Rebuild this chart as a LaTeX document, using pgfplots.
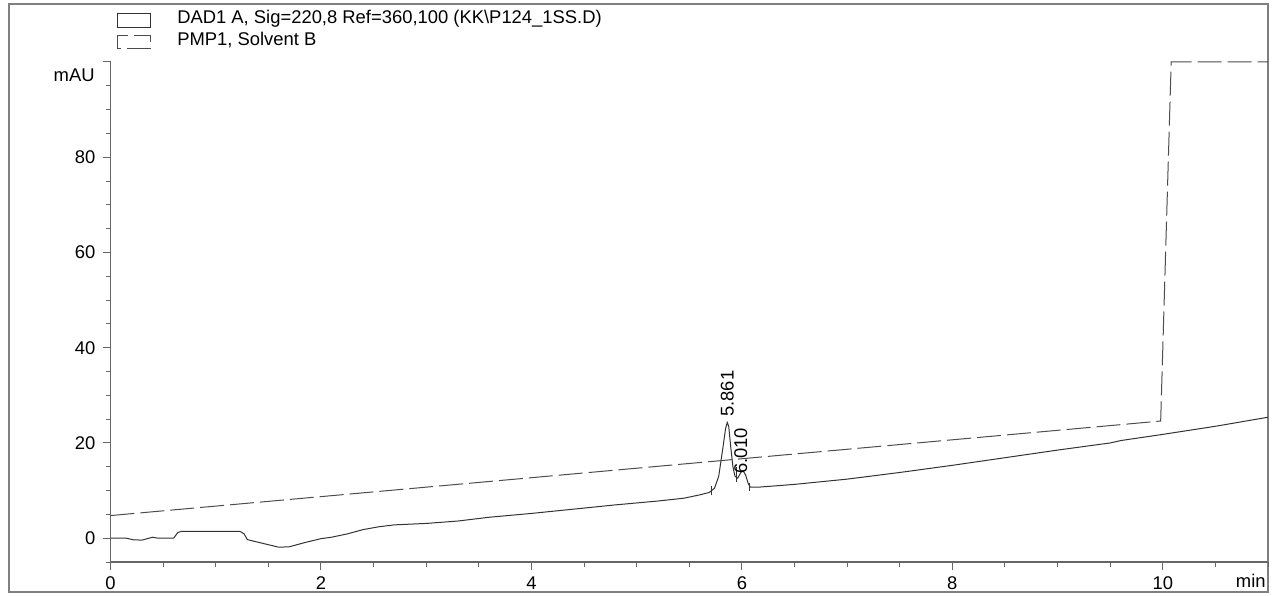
\documentclass[border=0pt]{standalone}
\usepackage{fontspec}
\setmainfont{Liberation Sans}
\usepackage{pgfplots}
\pgfplotsset{compat=1.18}
\begin{document}
\begin{tikzpicture}
\useasboundingbox (0pt,0pt) rectangle (637.5pt,297.5pt);
\draw[black!50, line width=0.6pt] (4.5pt,1.5pt) rectangle (634pt,295.5pt);
\begin{axis}[
  at={(55.25pt,16.5pt)}, anchor=south west,
  scale only axis, width=578.75pt, height=250pt,
  xmin=0, xmax=11, ymin=-5, ymax=100,
  axis x line*=bottom, axis y line*=left,
  axis line style={black!60, -, line width=0.6pt},
  xtick={0,2,...,10}, minor xtick={0,0.5,...,11},
  ytick={0,20,...,100}, yticklabels={0,20,40,60,80,{}},
  minor ytick={-5,0,...,100},
  tick align=outside, major tick length=4pt, minor tick length=2.5pt,
  tick style={black!60, line width=0.5pt},
  ticklabel style={font=\fontsize{9.2}{11}\selectfont},
  /pgf/number format/assume math mode=true,
  clip=false,
  legend style={at={(axis description cs:0,1)}, anchor=north west,
    xshift=3pt, yshift=28pt, draw=none, fill=none, inner sep=0pt,
    font=\fontsize{9.2}{11}\selectfont, row sep=-1.5pt,
    cells={anchor=west, inner ysep=0.4pt}},
  legend image code/.code={\draw[#1, line width=0.4pt] (0pt,-4.3pt) rectangle (16.7pt,2.4pt); \path[draw=none] (0pt,0pt) -- (28pt,0pt);},
]
\addplot[black!80, line width=0.5pt] coordinates {
(0,0) (0.15,0) (0.22,-0.35) (0.3,-0.4) (0.35,-0.1) (0.4,0.2) (0.45,0)
(0.6,0) (0.64,1.2) (0.68,1.45) (1.23,1.45) (1.27,0.9) (1.30,-0.3)
(1.45,-1.1) (1.6,-1.9) (1.7,-1.8) (1.85,-0.9) (2.0,-0.1) (2.1,0.2)
(2.25,0.9) (2.4,1.8) (2.55,2.4) (2.7,2.8) (3.0,3.1) (3.3,3.6) (3.6,4.4)
(4.0,5.2) (4.4,6.1) (4.8,7.0) (5.2,7.8) (5.45,8.4) (5.6,9.1) (5.69,9.6)
(5.74,10.5) (5.78,13) (5.82,19) (5.845,23) (5.861,24.3) (5.875,23.5)
(5.895,19) (5.915,15) (5.935,13) (5.96,12.6) (5.99,13.8) (6.01,14.2)
(6.035,13.3) (6.06,11.5) (6.08,10.7) (6.15,10.7) (6.5,11.3) (7.0,12.4)
(7.5,13.8) (8.0,15.3) (8.5,16.9) (9.0,18.5) (9.5,20.0) (9.6,20.5)
(10.0,21.8) (10.5,23.5) (11.0,25.4)
};
\addlegendentry{DAD1 A, Sig=220,8 Ref=360,100 (KK\textbackslash P124\_1SS.D)}
\addplot[black!70, line width=0.5pt, dash pattern=on 12pt off 3pt] coordinates {
(0,4.75) (9.98,24.6) (10.08,100) (11,100)
};
\addlegendentry{PMP1, Solvent B}
% integration marks
\addplot[black!80, line width=0.4pt, forget plot] coordinates {(5.71,9.0) (5.71,11.0)};
\addplot[black!80, line width=0.4pt, forget plot] coordinates {(5.945,11.8) (5.945,14.9)};
\addplot[black!80, line width=0.4pt, forget plot] coordinates {(6.07,10.0) (6.07,11.6)};
\node[rotate=90, anchor=west, inner sep=1pt, font=\fontsize{9.2}{11}\selectfont] at (axis cs:5.861,25.0) {5.861};
\node[rotate=90, anchor=west, inner sep=1pt, font=\fontsize{9.2}{11}\selectfont] at (axis cs:5.99,13.0) {6.010};
\node[anchor=east, inner sep=0pt, font=\fontsize{9.2}{11}\selectfont] at (rel axis cs:0,1) [xshift=-7.75pt, yshift=-6.5pt] {mAU};
\node[anchor=north east, inner sep=0pt, font=\fontsize{9.2}{11}\selectfont] at (rel axis cs:1,0) [yshift=-6pt, xshift=-1pt] {min};
\end{axis}
\end{tikzpicture}
\end{document}
